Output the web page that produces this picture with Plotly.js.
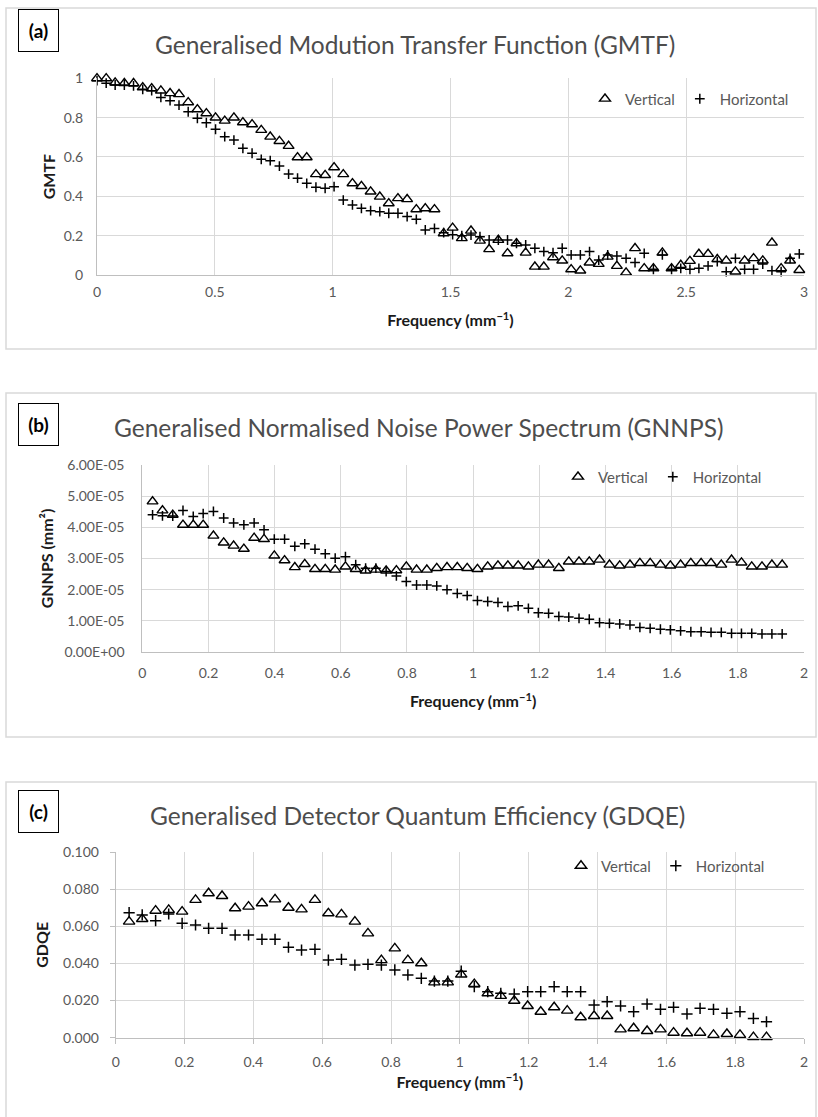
<!DOCTYPE html>
<html>
<head>
<meta charset="utf-8">
<script src="https://cdn.plot.ly/plotly-3.0.1.min.js"></script>
<style>html,body{margin:0;padding:0;background:#fff;}#chart{width:818px;height:1117px;}</style>
</head>
<body>
<div id="chart"></div>
<script>
// ---------- (a) GMTF ----------
const gmtfFreq = [0,0.039,0.077,0.116,0.155,0.194,0.232,0.271,0.310,0.348,0.387,0.426,0.464,0.503,0.542,0.581,0.619,0.658,0.697,0.735,0.774,0.813,0.851,0.890,0.929,0.968,1.006,1.045,1.084,1.122,1.161,1.200,1.238,1.277,1.316,1.355,1.393,1.432,1.471,1.509,1.548,1.587,1.625,1.664,1.703,1.742,1.780,1.819,1.858,1.896,1.935,1.974,2.012,2.051,2.090,2.129,2.167,2.206,2.245,2.283,2.322,2.361,2.399,2.438,2.477,2.516,2.554,2.593,2.632,2.670,2.709,2.748,2.786,2.825,2.864,2.903,2.941,2.980];
const gmtfVertical = [1.0,1.0,0.978,0.975,0.975,0.954,0.949,0.937,0.924,0.919,0.878,0.842,0.822,0.80,0.784,0.80,0.776,0.766,0.737,0.703,0.681,0.656,0.598,0.598,0.512,0.508,0.547,0.512,0.466,0.452,0.424,0.398,0.364,0.39,0.385,0.334,0.339,0.334,0.212,0.240,0.187,0.225,0.174,0.131,0.178,0.110,0.161,0.113,0.042,0.042,0.090,0.073,0.029,0.022,0.063,0.056,0.093,0.046,0.012,0.136,0.034,0.034,0.113,0.034,0.051,0.071,0.107,0.107,0.080,0.073,0.017,0.073,0.085,0.073,0.164,0.034,0.073,0.025];
const gmtfHorizontal = [0.988,0.975,0.966,0.966,0.961,0.944,0.937,0.903,0.886,0.864,0.830,0.797,0.774,0.741,0.703,0.686,0.644,0.619,0.588,0.581,0.554,0.513,0.492,0.466,0.446,0.441,0.449,0.381,0.356,0.339,0.327,0.322,0.314,0.314,0.297,0.283,0.229,0.237,0.215,0.205,0.200,0.203,0.195,0.178,0.178,0.178,0.161,0.153,0.136,0.119,0.113,0.136,0.102,0.102,0.119,0.076,0.102,0.097,0.085,0.063,0.110,0.029,0.102,0.029,0.034,0.029,0.034,0.046,0.068,0.017,0.085,0.029,0.029,0.056,0.022,0.017,0.085,0.107];

// ---------- (b) GNNPS ----------
const gnnpsFreq = [0.031,0.061,0.092,0.123,0.154,0.184,0.215,0.246,0.276,0.307,0.338,0.368,0.399,0.430,0.461,0.491,0.522,0.553,0.583,0.614,0.645,0.675,0.706,0.737,0.768,0.798,0.829,0.860,0.890,0.921,0.952,0.982,1.013,1.044,1.075,1.105,1.136,1.167,1.197,1.228,1.259,1.289,1.320,1.351,1.382,1.412,1.443,1.474,1.504,1.535,1.566,1.596,1.627,1.658,1.689,1.719,1.750,1.781,1.811,1.842,1.873,1.903,1.934];
const gnnpsVertical = [4.83e-5,4.54e-5,4.40e-5,4.08e-5,4.08e-5,4.08e-5,3.73e-5,3.51e-5,3.41e-5,3.31e-5,3.66e-5,3.62e-5,3.09e-5,2.94e-5,2.72e-5,2.82e-5,2.66e-5,2.66e-5,2.64e-5,2.74e-5,2.66e-5,2.61e-5,2.64e-5,2.61e-5,2.62e-5,2.74e-5,2.64e-5,2.64e-5,2.69e-5,2.72e-5,2.72e-5,2.69e-5,2.66e-5,2.74e-5,2.77e-5,2.77e-5,2.77e-5,2.74e-5,2.80e-5,2.80e-5,2.69e-5,2.90e-5,2.90e-5,2.90e-5,2.96e-5,2.80e-5,2.77e-5,2.80e-5,2.85e-5,2.85e-5,2.80e-5,2.77e-5,2.80e-5,2.85e-5,2.85e-5,2.85e-5,2.80e-5,2.96e-5,2.87e-5,2.74e-5,2.74e-5,2.80e-5,2.80e-5];
const gnnpsHorizontal = [4.40e-5,4.37e-5,4.36e-5,4.54e-5,4.35e-5,4.44e-5,4.51e-5,4.30e-5,4.14e-5,4.08e-5,4.14e-5,3.92e-5,3.62e-5,3.62e-5,3.39e-5,3.47e-5,3.30e-5,3.15e-5,3.01e-5,3.06e-5,2.80e-5,2.69e-5,2.69e-5,2.58e-5,2.44e-5,2.26e-5,2.15e-5,2.15e-5,2.12e-5,2.00e-5,1.88e-5,1.81e-5,1.65e-5,1.62e-5,1.59e-5,1.46e-5,1.48e-5,1.40e-5,1.26e-5,1.24e-5,1.14e-5,1.12e-5,1.08e-5,1.05e-5,0.94e-5,0.92e-5,0.90e-5,0.87e-5,0.79e-5,0.76e-5,0.73e-5,0.71e-5,0.68e-5,0.65e-5,0.65e-5,0.63e-5,0.63e-5,0.60e-5,0.60e-5,0.60e-5,0.58e-5,0.58e-5,0.58e-5];
const gnnpsTickVals = [0,1e-5,2e-5,3e-5,4e-5,5e-5,6e-5];
const gnnpsTickText = ['0.00E+00','1.00E-05','2.00E-05','3.00E-05','4.00E-05','5.00E-05','6.00E-05'];

// ---------- (c) GDQE ----------
const gdqeFreq = [0.039,0.077,0.116,0.154,0.193,0.232,0.270,0.309,0.347,0.386,0.425,0.463,0.502,0.540,0.579,0.618,0.656,0.695,0.733,0.772,0.811,0.849,0.888,0.926,0.965,1.004,1.042,1.081,1.119,1.158,1.197,1.235,1.274,1.312,1.351,1.390,1.428,1.467,1.505,1.544,1.583,1.621,1.660,1.698,1.737,1.776,1.814,1.853,1.891];
const gdqeVertical = [0.0625,0.0639,0.0684,0.0688,0.0679,0.0742,0.0778,0.0763,0.0697,0.0706,0.0724,0.0745,0.0700,0.0691,0.0742,0.0670,0.0664,0.0625,0.0562,0.0418,0.0481,0.0418,0.0401,0.0298,0.0298,0.0340,0.0289,0.0239,0.0225,0.0199,0.0171,0.0140,0.0164,0.0146,0.0110,0.0117,0.0117,0.0045,0.0051,0.0036,0.0045,0.0027,0.0024,0.0027,0.0015,0.0020,0.0015,0.0003,0.0003];
const gdqeHorizontal = [0.0673,0.0661,0.0630,0.0666,0.0616,0.0607,0.0589,0.0589,0.0553,0.0553,0.0530,0.0530,0.0487,0.0472,0.0476,0.0418,0.0422,0.0391,0.0395,0.0391,0.0365,0.0338,0.0320,0.0305,0.0305,0.0358,0.0275,0.0248,0.0239,0.0235,0.0248,0.0248,0.0275,0.0248,0.0248,0.0176,0.0194,0.0171,0.0140,0.0181,0.0153,0.0164,0.0128,0.0158,0.0153,0.0131,0.0140,0.0104,0.0086];

const seriesNames = ['Vertical', 'Horizontal'];
const panelTitles = ['Generalised Modution Transfer Function (GMTF)', 'Generalised Normalised Noise Power Spectrum (GNNPS)', 'Generalised Detector Quantum Efficiency (GDQE)'];
const panelLabels = ['(a)', '(b)', '(c)'];
const yTitles = ['GMTF', 'GNNPS (mm²)', 'GDQE'];
const xTitle = 'Frequency (mm<sup>−1</sup>)';

// ---------- layout helpers ----------
const W = 818, H = 1117;
const px = v => v / W;
const py = v => 1 - v / H;
const FONT = 'Lato, "Open Sans", sans-serif';
const gridC = '#d9d9d9', lineC = '#bfbfbf', tickC = '#595959', darkC = '#1a1a1a';

const triMarker = size => ({symbol: 'triangle-up-open', size: size, color: '#000', line: {width: 1.4, color: '#000'}});
const crossMarker = size => ({symbol: 'cross-thin', size: size, color: '#000', line: {width: 1.5, color: '#000'}});

function pair(xs, yv, yh, xa, ya, leg, ts, cs) {
  return [
    {x: xs, y: yv, type: 'scatter', mode: 'markers', name: seriesNames[0], xaxis: xa, yaxis: ya, legend: leg, marker: triMarker(ts), cliponaxis: false},
    {x: xs, y: yh, type: 'scatter', mode: 'markers', name: seriesNames[1], xaxis: xa, yaxis: ya, legend: leg, marker: crossMarker(cs), cliponaxis: false}
  ];
}

const data = [].concat(
  pair(gmtfFreq, gmtfVertical, gmtfHorizontal, 'x', 'y', 'legend', 9.5, 7),
  pair(gnnpsFreq, gnnpsVertical, gnnpsHorizontal, 'x2', 'y2', 'legend2', 9.5, 7),
  pair(gdqeFreq, gdqeVertical, gdqeHorizontal, 'x3', 'y3', 'legend3', 10, 8)
);

const tickFont = {family: FONT, size: 14, color: tickC};
const axTitleFont = {family: FONT, size: 16, color: darkC};

function xAx(dom, anchor, range, dtick, standoff, tstand, withTicks) {
  return {
    domain: dom, anchor: anchor, range: range, dtick: dtick, tick0: 0,
    showgrid: true, gridcolor: gridC, gridwidth: 1, zeroline: false,
    showline: true, linecolor: lineC, linewidth: 1,
    ticks: withTicks ? 'outside' : '', ticklen: 5, tickcolor: lineC,
    tickfont: tickFont, ticklabelstandoff: tstand,
    title: {text: '<b>' + xTitle + '</b>', font: axTitleFont, standoff: standoff},
    fixedrange: true
  };
}
function yAx(dom, anchor, range, extra, title, standoff, tstand, withTicks) {
  return Object.assign({
    domain: dom, anchor: anchor, range: range,
    showgrid: true, gridcolor: gridC, gridwidth: 1, zeroline: false,
    showline: true, linecolor: lineC, linewidth: 1,
    ticks: withTicks ? 'outside' : '', ticklen: 5, tickcolor: lineC,
    tickfont: tickFont, ticklabelstandoff: tstand,
    title: {text: '<b>' + title + '</b>', font: axTitleFont, standoff: standoff},
    fixedrange: true
  }, extra);
}

const legendStyle = (x, y) => ({
  orientation: 'h', x: px(x), y: py(y), xanchor: 'left', yanchor: 'middle',
  bgcolor: 'rgba(0,0,0,0)', borderwidth: 0,
  font: {family: FONT, size: 15, color: tickC}, itemclick: false, itemdoubleclick: false
});

const frames = [[8, 349], [393, 737], [782, 1130]].map(([t, b]) => ({
  type: 'rect', xref: 'paper', yref: 'paper', x0: px(6), x1: px(816), y0: py(b), y1: py(t),
  line: {color: '#d9d9d9', width: 1.5}, fillcolor: 'rgba(0,0,0,0)', layer: 'below'
}));

const labelPos = [30, 424, 811];
const titlePos = [[415, 45], [418, 427], [417, 815]];
const annotations = [];
panelLabels.forEach((t, i) => {
  annotations.push({
    text: '<b>' + t + '</b>', xref: 'paper', yref: 'paper', x: px(38.5), y: py(labelPos[i]),
    xanchor: 'center', yanchor: 'middle', showarrow: false,
    font: {family: FONT, size: 19, color: '#000'},
    bordercolor: '#000', borderwidth: 1, borderpad: 2, width: 35, height: 37
  });
  annotations.push({
    text: panelTitles[i], xref: 'paper', yref: 'paper', x: px(titlePos[i][0]), y: py(titlePos[i][1]),
    xanchor: 'center', yanchor: 'middle', showarrow: false,
    font: {family: FONT, size: 24.5, color: '#4d4d4d'}
  });
});

const layout = {
  width: W, height: H, margin: {l: 0, r: 0, t: 0, b: 0},
  paper_bgcolor: '#fff', plot_bgcolor: 'rgba(0,0,0,0)',
  showlegend: true,
  xaxis: xAx([px(97), px(804)], 'y', [0, 3], 0.5, 16, 4, false),
  yaxis: yAx([py(275), py(78.3)], 'x', [0, 1], {dtick: 0.2, tick0: 0}, yTitles[0], 4, 10, false),
  xaxis2: xAx([px(142.3), px(804)], 'y2', [0, 2], 0.2, 16, 8, false),
  yaxis2: yAx([py(652), py(465)], 'x2', [0, 6e-5], {tickvals: gnnpsTickVals, ticktext: gnnpsTickText}, yTitles[1], 6, 14, false),
  xaxis3: xAx([px(115.7), px(804)], 'y3', [0, 2], 0.2, 8, 6, true),
  yaxis3: yAx([py(1037.7), py(852)], 'x3', [0, 0.1], {dtick: 0.02, tick0: 0, tickformat: '.3f'}, yTitles[2], 10, 8, true),
  legend: legendStyle(585, 99),
  legend2: legendStyle(558, 477),
  legend3: legendStyle(561, 866),
  shapes: frames,
  annotations: annotations
};

Plotly.newPlot('chart', data, layout, {displayModeBar: false, staticPlot: true});
</script>
</body>
</html>
